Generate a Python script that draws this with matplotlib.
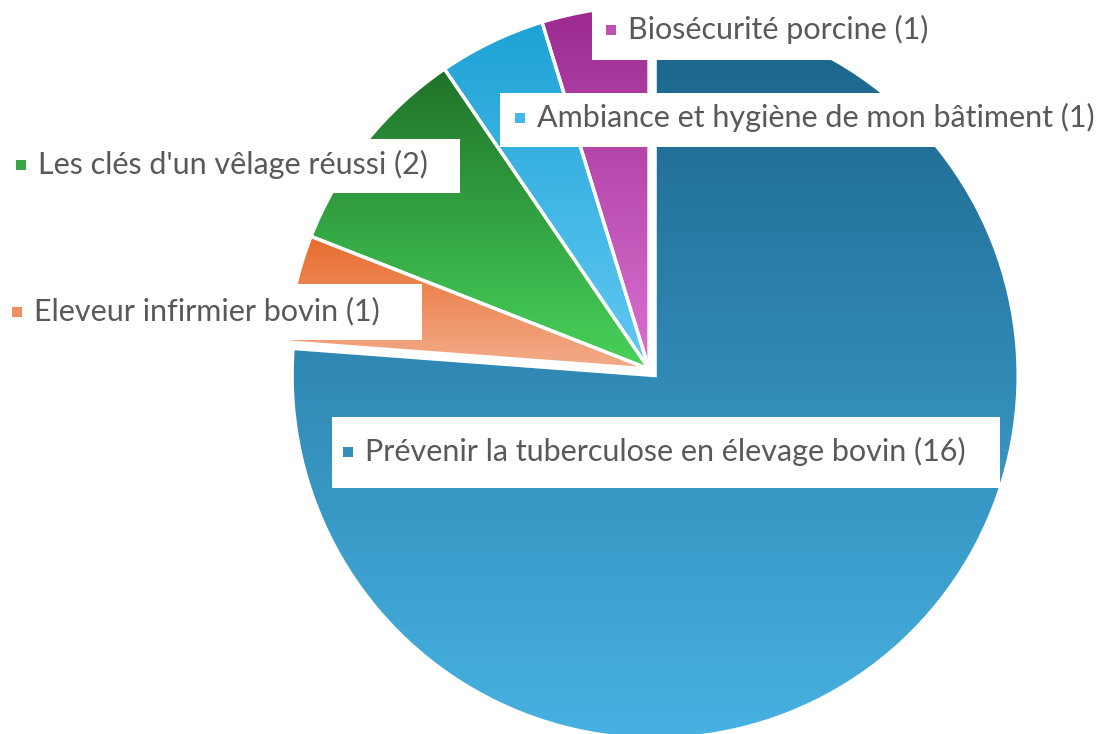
import matplotlib
matplotlib.use("Agg")
import matplotlib.pyplot as plt
import numpy as np
from matplotlib.colors import to_rgb
from matplotlib.patches import Rectangle

# --- data (clockwise from 12 o'clock) ---
labels = [
    "Prévenir la tuberculose en élevage bovin",
    "Eleveur infirmier bovin",
    "Les clés d'un vêlage réussi",
    "Ambiance et hygiène de mon bâtiment",
    "Biosécurité porcine",
]
counts = [16, 1, 2, 1, 1]

# gradient colours (top, bottom) per slice
TOP_COLORS = ["#1a6288", "#e86c2c", "#1f7229", "#1ea2d6", "#9c2a8e"]
BOTTOM_COLORS = ["#47b2e2", "#f3ad8c", "#48d35b", "#62c9f3", "#da72d2"]
TEXT_COLOR = "#595959"

W, H = 1109, 734
CENTER = (649, 369)      # pixel coords, top-down
RADIUS = 363
EXPLODE = [9, 0, 0, 0, 0]

# label boxes in pixel coords (x0, y0_top, x1, y1_bottom) and marker anchor (x, y)
BOXES = [
    (332, 417, 1000, 488),
    (0, 284, 422, 340),
    (0, 139, 460, 193),
    (500, 93, 1109, 147),
    (592, 0, 952, 60),
]
ANCHORS = [(348, 452), (17, 312), (21, 165), (520, 118), (611, 30)]


def py(y):
    return H - y


def blend(c1, c2, t):
    a, b = np.array(to_rgb(c1)), np.array(to_rgb(c2))
    return a + (b - a) * t


fig = plt.figure(figsize=(W / 100, H / 100), dpi=100)
ax = fig.add_axes([0, 0, 1, 1])

wedges, _ = ax.pie(
    counts, center=(CENTER[0], py(CENTER[1])), radius=RADIUS,
    startangle=90, counterclock=False, explode=EXPLODE,
    wedgeprops=dict(facecolor="none", edgecolor="white", linewidth=2.4),
)

for w, top, bot in zip(wedges, TOP_COLORS, BOTTOM_COLORS):
    w.set_zorder(3)
    ext = w.get_path().get_extents()
    t = np.linspace(0, 1, 256)[:, None]
    grad = blend(top, bot, t)[:, None, :]
    im = ax.imshow(grad, extent=(ext.x0, ext.x1, ext.y0, ext.y1), origin="upper",
                   aspect="auto", interpolation="bilinear", zorder=2)
    im.set_clip_path(w)

for (x0, y0, x1, y1), (mx, my), lab, n, top, bot in zip(
        BOXES, ANCHORS, labels, counts, TOP_COLORS, BOTTOM_COLORS):
    ax.add_patch(Rectangle((x0, py(y1)), x1 - x0, y1 - y0, facecolor="white",
                           edgecolor="none", zorder=4))
    ax.add_patch(Rectangle((mx - 5, py(my) - 5), 10, 10,
                           facecolor=blend(top, bot, 0.55), edgecolor="none", zorder=5))
    ax.text(mx + 17, py(my) + 1, f"{lab} ({n})", fontsize=22, family="Lato",
            color=TEXT_COLOR, va="center", ha="left", zorder=6)

ax.set_xlim(0, W)
ax.set_ylim(0, H)
ax.set_aspect("auto")
ax.axis("off")

fig.savefig("out.png", dpi=100)
